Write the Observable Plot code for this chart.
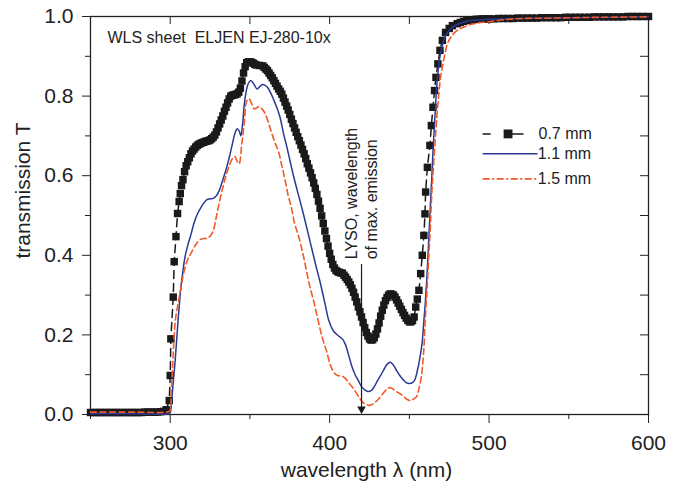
<!DOCTYPE html>
<html>
<head>
<meta charset="utf-8">
<script src="https://cdn.jsdelivr.net/npm/d3@7"></script>
<script src="https://cdn.jsdelivr.net/npm/@observablehq/plot@0.6"></script>
<style>
  html, body { margin: 0; padding: 0; background: #fff; }
  #chart { width: 676px; height: 483px; }
</style>
</head>
<body>
<div id="chart"></div>
<script>
// ---- data: [wavelength (nm), transmission T] ----
const black07 = [
[250,.005],[252,.005],[254,.005],[256,.005],[258,.005],[260,.005],[262,.005],[264,.005],[266,.005],[268,.005],
[270,.005],[272,.005],[274,.005],[276,.005],[278,.005],[280,.005],[282,.005],[284,.006],[286,.006],[288,.006],
[290,.006],[292,.006],[294,.007],[296,.008],[297.5,.012],[299.4,.035],[300,.098],[300.4,.19],[301.9,.295],[302.5,.384],
[303.6,.447],[304.6,.505],[305.6,.535],[306.3,.555],[307.1,.575],[308,.59],[309,.61],[310,.625],[311,.635],[312,.645],
[313,.655],[314,.662],[315,.667],[316,.672],[317,.676],[318,.679],[319,.681],[320,.683],[321,.684],[322,.686],
[323,.687],[324,.688],[325,.69],[326,.693],[327,.697],[328,.702],[329,.71],[330,.72],[331,.73],[332,.74],
[333,.75],[334,.762],[335,.772],[336,.783],[337,.793],[338,.8],[339,.802],[340,.803],[341,.804],[342,.806],
[343,.81],[344,.82],[345,.838],[346,.858],[347,.874],[348,.884],[349,.886],[350,.886],[351,.885],[352,.883],
[353,.88],[354,.878],[356,.877],[358,.876],[359,.872],[360,.868],[361,.864],[362,.858],[363,.852],[364,.846],
[365,.839],[366,.832],[367,.825],[368,.818],[369,.812],[370,.805],[371,.795],[372,.785],[373,.775],[374,.765],
[375,.754],[376,.742],[377,.731],[378,.72],[379,.709],[380,.698],[381,.688],[382,.677],[383,.666],[384,.655],
[385,.643],[386,.63],[387,.619],[388,.607],[389,.595],[390,.582],[391,.568],[392,.553],[393,.536],[394,.518],
[395,.499],[396,.48],[397,.461],[398,.442],[399,.423],[400,.405],[401,.39],[402,.377],[403,.368],[404,.362],
[405,.359],[406,.357],[407,.356],[408,.355],[409,.35],[410,.345],[411,.339],[412,.333],[413,.326],[414,.317],
[415,.307],[416,.295],[417,.283],[418,.27],[419,.258],[420,.245],[421,.231],[422,.218],[423,.206],[424,.197],
[425,.19],[426,.187],[427,.188],[428,.193],[429,.202],[430,.215],[431,.23],[432,.247],[433,.262],[434,.275],
[435,.286],[436,.294],[437,.3],[438,.303],[439,.302],[440,.3],[441,.295],[442,.288],[443,.28],[444,.272],
[445,.264],[446,.256],[447,.249],[448,.242],[449,.237],[450,.233],[451,.233],[452,.236],[453,.245],[454,.27],
[455,.29],[456,.312],[457.1,.354],[458.1,.4],[459.1,.45],[459.8,.504],[460.2,.559],[461.3,.621],[462.9,.676],[463.8,.726],
[464.8,.772],[465.8,.814],[466.7,.847],[467.9,.881],[469.2,.915],[470.7,.94],[472.7,.96],[475,.97],[477,.977],[480,.982],
[482,.985],[484,.988],[486,.99],[488,.991],[490,.992],[492,.993],[494,.993],[496,.994],[498,.994],[500,.994],
[503,.994],[506,.995],[509,.995],[512,.995],[515,.995],[518,.996],[521,.996],[524,.996],[527,.996],[530,.996],
[533,.997],[536,.997],[539,.997],[542,.997],[545,.997],[548,.998],[551,.998],[554,.998],[557,.998],[560,.998],
[563,.998],[566,.999],[569,.999],[572,.999],[575,.999],[578,.999],[581,.999],[584,.999],[587,1],[590,1],
[593,1],[596,1],[600,1]
];

const blue11 = [
[250,.002],[280,.002],[299,.002],[300,.005],[301,.04],[302,.085],[303,.13],[304,.185],[305,.24],[306,.29],
[307,.33],[308,.36],[309,.39],[311,.425],[313,.452],[315,.482],[317,.503],[319,.518],[321,.531],[323,.54],
[325,.542],[327,.543],[329,.55],[331,.565],[333,.59],[335,.615],[337,.645],[339,.68],[340.5,.705],[342,.718],
[343.3,.712],[344.3,.7],[345.4,.73],[346.8,.79],[348.9,.831],[350.6,.839],[352.5,.83],[354.5,.818],[356.5,.825],[358,.829],
[359.5,.827],[361,.822],[363,.808],[365,.79],[367,.77],[369,.745],[371,.707],[373,.675],[375,.64],[377,.605],
[380,.558],[382,.528],[385,.48],[388,.43],[391,.38],[394,.333],[397,.28],[399.5,.236],[402,.212],[404,.203],
[406,.196],[408,.19],[410,.175],[412,.148],[414,.12],[416,.1],[418,.085],[420,.07],[422,.062],[424,.058],
[426,.06],[428,.07],[430,.085],[432,.098],[434,.113],[436,.126],[438,.131],[440,.124],[442,.11],[444,.098],
[446,.088],[448,.08],[450,.078],[452,.08],[453.5,.088],[455,.11],[456.5,.14],[458,.18],[459,.23],[460,.28],
[461,.345],[462,.425],[463,.51],[464,.59],[465,.675],[466,.745],[467,.815],[468,.862],[469,.895],[470.5,.925],
[472,.945],[474,.96],[476,.97],[480,.98],[485,.987],[490,.99],[500,.993],[520,.995],[550,.997],[580,.998],[600,1]
];

const red15 = [
[250,.006],[280,.006],[298,.006],[300,.01],[300.5,.05],[301.5,.12],[302.5,.2],[303.5,.245],[305,.28],[307,.325],
[309,.365],[311,.39],[313,.405],[315,.42],[317,.432],[319,.44],[321,.442],[323,.443],[325,.448],[327,.462],
[329,.498],[331,.537],[333,.57],[335,.6],[337,.625],[339,.643],[340.5,.648],[342,.636],[343.2,.63],[344.9,.68],
[346.4,.73],[348.1,.789],[349.5,.793],[351,.782],[352.6,.768],[354,.77],[355.8,.774],[357.5,.768],[359,.76],[360,.752],
[362,.728],[364,.703],[366,.68],[368,.66],[370,.625],[372,.59],[374,.55],[376,.52],[378,.48],[380,.455],
[382,.425],[384,.39],[386,.35],[388,.315],[390,.285],[392,.25],[394,.215],[396,.185],[398,.16],[400,.13],
[402,.11],[404,.1],[406,.097],[408,.096],[410,.09],[412,.08],[413,.075],[415,.065],[417,.052],[419,.04],
[421,.03],[423,.025],[425,.023],[427,.026],[429,.032],[431,.04],[433,.05],[435,.06],[437,.067],[439,.066],
[441,.06],[443,.055],[445,.05],[447,.043],[449,.037],[451,.035],[453,.04],[454.5,.045],[456,.065],[457.5,.094],
[459,.16],[460,.24],[461.3,.33],[462.2,.4],[463,.455],[464,.55],[465,.615],[466.5,.705],[467.5,.76],[468.5,.806],
[469.5,.845],[470.7,.873],[472,.9],[473.8,.93],[476,.948],[480,.965],[485,.975],[490.5,.982],[500,.987],[515,.994],
[540,.996],[570,.998],[600,.999]
];

const seriesLabels = ["0.7 mm", "1.1 mm", "1.5 mm"];
const xMajor = [300, 400, 500, 600];
const xMinor = [250, 350, 450, 550];
const xTop = [300, 350, 400, 450, 500, 550];
const yMajor = [0, 0.2, 0.4, 0.6, 0.8, 1.0];
const yMinor = [0.1, 0.3, 0.5, 0.7, 0.9];
const yRight = [0.1, 0.2, 0.3, 0.4, 0.5, 0.6, 0.7, 0.8, 0.9];
const titleText = "WLS sheet\u00a0 ELJEN EJ-280-10x";
const annotLines = ["LYSO, wavelength", "of max. emission"];
const lysoWavelength = 420;

const INK = "#222";
const BLACK = "#1a1a1a";
const BLUE = "#2b3894";
const RED = "#f15a29";
const FONT = "'Liberation Sans', Arial, sans-serif";

// inner tick length (8px) expressed in data units of each scale
const X0 = 250, X1 = 600, Y0 = 0, Y1 = 1;
const innerTickX = 8 * (X1 - X0) / (676 - 90 - 28);
const innerTickY = 8 * (Y1 - Y0) / (483 - 16 - 69);

const xy = {x: d => d[0], y: d => d[1]};

const chart = Plot.plot({
  width: 676,
  height: 483,
  marginLeft: 90,
  marginRight: 28,
  marginTop: 16,
  marginBottom: 69,
  style: {fontFamily: FONT, fontSize: "21px", color: INK, background: "#fff", overflow: "visible"},
  x: {domain: [X0, X1]},
  y: {domain: [Y0, Y1]},
  marks: [
    // axes
    Plot.axisX({anchor: "bottom", ticks: xMajor, tickSize: 9, tickPadding: 12, tickFormat: d => String(d), label: null, stroke: INK, fill: INK, fontSize: 21}),
    Plot.axisX({anchor: "bottom", ticks: xMinor, tickSize: 5, tickFormat: () => "", label: null, stroke: INK}),
    Plot.axisY({anchor: "left", ticks: yMajor, tickSize: 8, tickPadding: 9, tickFormat: d3.format(".1f"), label: null, stroke: INK, fill: INK, fontSize: 21}),
    Plot.axisY({anchor: "left", ticks: yMinor, tickSize: 5, tickFormat: () => "", label: null, stroke: INK}),
    // inward ticks on top and right frame edges
    Plot.ruleX(xTop, {x: d => d, y1: Y1, y2: Y1 - innerTickY, stroke: INK, strokeWidth: 1}),
    Plot.ruleY(yRight, {y: d => d, x1: X1, x2: X1 - innerTickX, stroke: INK, strokeWidth: 1}),
    Plot.frame({stroke: INK, strokeWidth: 1.3}),

    // axis titles
    Plot.text(["wavelength λ (nm)"], {frameAnchor: "bottom", dx: -3, dy: 48, lineAnchor: "top", fontSize: 21, fill: INK}),
    Plot.text(["transmission T"], {frameAnchor: "left", dx: -67, dy: -25, rotate: -90, textAnchor: "middle", lineAnchor: "middle", fontSize: 21, fill: INK}),

    // series
    Plot.line(black07, {...xy, stroke: BLACK, strokeWidth: 1.5, strokeDasharray: "8,5"}),
    Plot.dot(black07, {...xy, symbol: "square", r: 4.2, fill: BLACK, stroke: "none"}),
    Plot.line(blue11, {...xy, stroke: BLUE, strokeWidth: 1.5, curve: "catmull-rom"}),
    Plot.line(red15, {...xy, stroke: RED, strokeWidth: 1.6, strokeDasharray: "6,3.5", curve: "catmull-rom"}),

    // title inside the frame
    Plot.text([titleText], {frameAnchor: "top-left", dx: 17, dy: 15, lineAnchor: "top", textAnchor: "start", fontSize: 16, fill: INK}),

    // LYSO annotation arrow
    Plot.link([lysoWavelength], {x1: d => d, x2: d => d, y1: 0.378, y2: 0.016, stroke: BLACK, strokeWidth: 1.2}),
    Plot.dot([lysoWavelength], {x: d => d, y: 0.014, symbol: "triangle", rotate: 180, r: 3.2, fill: BLACK, stroke: "none"}),
    Plot.text([annotLines[0]], {x: lysoWavelength, y: 0.39, dx: -10, rotate: -90, textAnchor: "start", lineAnchor: "middle", fontSize: 16, fill: INK}),
    Plot.text([annotLines[1]], {x: lysoWavelength, y: 0.39, dx: 10, rotate: -90, textAnchor: "start", lineAnchor: "middle", fontSize: 16, fill: INK}),

    // legend
    Plot.link([0], {x1: 496, x2: 521.6, y1: 0.705, y2: 0.705, stroke: BLACK, strokeWidth: 1.5, strokeDasharray: "8,21,12"}),
    Plot.dot([0], {x: 511.9, y: 0.705, symbol: "square", r: 5, fill: BLACK, stroke: "none"}),
    Plot.link([0], {x1: 496, x2: 530.4, y1: 0.655, y2: 0.655, stroke: BLUE, strokeWidth: 1.5}),
    Plot.link([0], {x1: 496, x2: 530.4, y1: 0.592, y2: 0.592, stroke: RED, strokeWidth: 1.6, strokeDasharray: "7,2.5,2,2.5"}),
    Plot.text(seriesLabels, {x: (d, i) => [531, 530.6, 530.6][i], y: (d, i) => [0.705, 0.655, 0.592][i], text: d => d, textAnchor: "start", lineAnchor: "middle", fontSize: 16, fill: INK})
  ]
});

document.getElementById("chart").appendChild(chart);
</script>
</body>
</html>
